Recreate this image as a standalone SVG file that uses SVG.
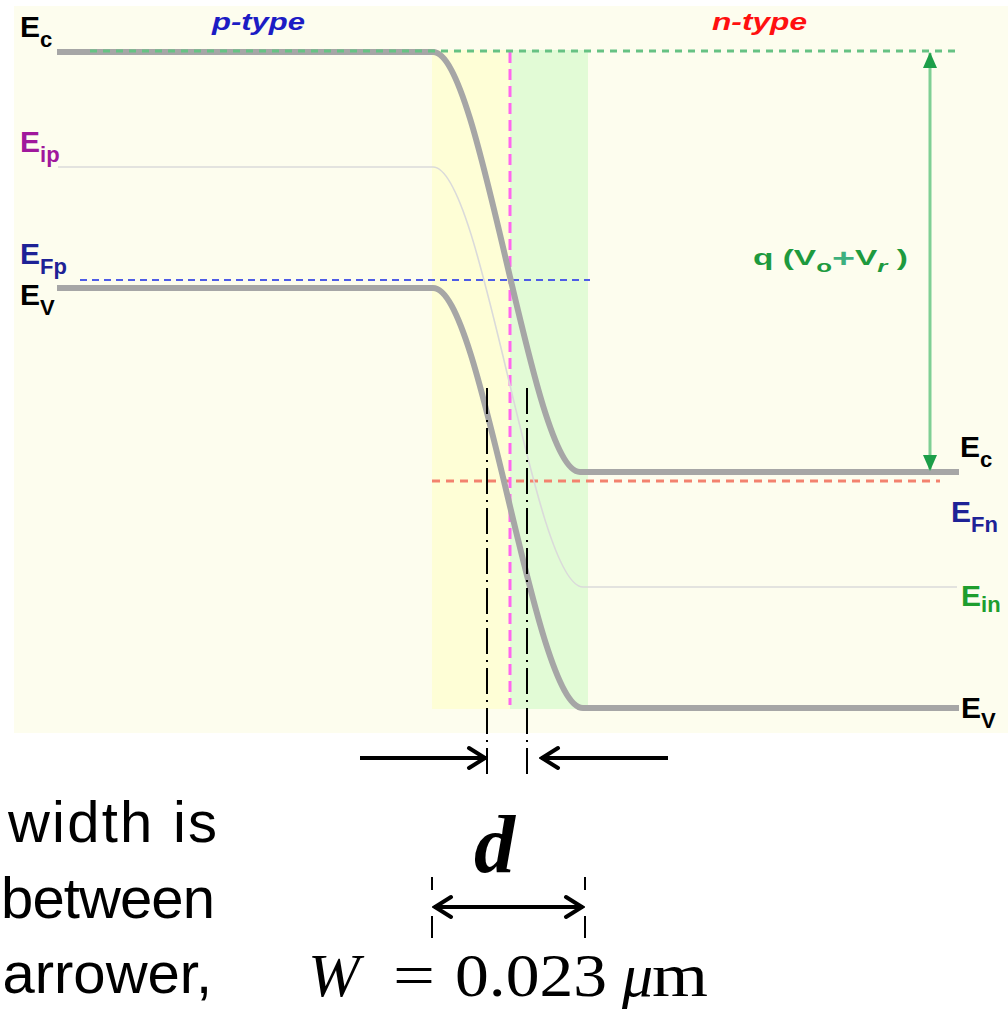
<svg xmlns="http://www.w3.org/2000/svg" width="1008" height="1010" viewBox="0 0 1008 1010">
<defs>
<style>
.band{fill:none;stroke:#A6A6A6;stroke-width:6}
.ei{fill:none;stroke:#DADADA;stroke-width:1.6}
.dd{fill:none;stroke:#000;stroke-width:2;stroke-dasharray:26 6 2 6}
.tick{fill:none;stroke:#000;stroke-width:2;stroke-dasharray:13 26 22}
.blk{fill:none;stroke:#000;stroke-width:4}
.lab{font-family:"Liberation Sans",Arial,sans-serif;font-weight:bold}
.sub{font-size:22px}
.body{font-family:"Liberation Sans",Arial,sans-serif;font-size:58px;fill:#000}
.math{font-family:"Liberation Serif","Times New Roman",serif;font-size:62px;fill:#000}
</style>
<marker id="open" viewBox="0 0 22 26" refX="20" refY="13" markerWidth="22" markerHeight="26" markerUnits="userSpaceOnUse" orient="auto-start-reverse">
<path d="M3,3 L19,13 L3,23" fill="none" stroke="#000" stroke-width="4" stroke-linecap="round"/>
</marker>
<marker id="garr" viewBox="0 0 16 14" refX="15" refY="7" markerWidth="16" markerHeight="14" markerUnits="userSpaceOnUse" orient="auto-start-reverse">
<path d="M0,0 L16,7 L0,14 Z" fill="#1C9E48"/>
</marker>
</defs>
<rect x="0" y="0" width="1008" height="1010" fill="#FFFFFF"/>
<rect x="14" y="6" width="994" height="727" fill="#FDFDEE"/>
<g id="depletion-p"><rect x="432" y="50" width="78" height="659" fill="#FEFED6"/></g>
<g id="depletion-n"><rect x="510" y="50" width="78" height="659" fill="#E2FBD6"/></g>

<g id="connectors">
<line x1="80" y1="280" x2="590" y2="280" stroke="#4E5CE6" stroke-width="2" stroke-dasharray="7 5"/>
<line x1="432" y1="481" x2="940" y2="481" stroke="#F3826E" stroke-width="3" stroke-dasharray="8 6"/>
<line x1="510" y1="52" x2="510" y2="705" stroke="#FF66EE" stroke-width="3" stroke-dasharray="11 6"/>
<path class="ei" d="M58,167 H433 C483,167 533,587 583,587 H957"/>
<path class="band" d="M57,52 H433 C482,52 531,472 580,472 H959"/>
<path class="band" d="M57,288 H433 C483,288 533,708 583,708 H959"/>
<line x1="90" y1="51" x2="960" y2="51" stroke="#66C283" stroke-width="3" stroke-dasharray="7 6"/>
<line x1="930" y1="53" x2="930" y2="470" stroke="#7FCF94" stroke-width="3" marker-start="url(#garr)" marker-end="url(#garr)"/>
<line class="dd" x1="487" y1="388" x2="487" y2="778"/>
<line class="dd" x1="527" y1="388" x2="527" y2="778"/>
<line class="blk" x1="360" y1="758" x2="486" y2="758" marker-end="url(#open)"/>
<line class="blk" x1="668" y1="758" x2="541" y2="758" marker-end="url(#open)"/>
<line class="tick" x1="432" y1="877" x2="432" y2="938"/>
<line class="tick" x1="585" y1="877" x2="585" y2="938"/>
<line class="blk" x1="434" y1="907" x2="583" y2="907" marker-start="url(#open)" marker-end="url(#open)"/>
</g>

<g id="region-labels">
<text class="lab" x="212" y="30" font-size="24" font-style="italic" fill="#1C1CC4" textLength="93" lengthAdjust="spacingAndGlyphs">p-type</text>
<text class="lab" x="712" y="30" font-size="24" font-style="italic" fill="#FF1010" textLength="95" lengthAdjust="spacingAndGlyphs">n-type</text>
</g>

<g id="left-labels">
<text class="lab" x="20" y="37" font-size="30" fill="#000">E<tspan class="sub" dy="10">c</tspan></text>
<text class="lab" x="20" y="152" font-size="30" fill="#A0189C">E<tspan class="sub" dy="10">ip</tspan></text>
<text class="lab" x="20" y="264" font-size="30" fill="#1E2296">E<tspan class="sub" dy="10">Fp</tspan></text>
<text class="lab" x="20" y="305" font-size="30" fill="#000">E<tspan class="sub" dy="10">V</tspan></text>
</g>

<g id="right-labels">
<text class="lab" x="960" y="457" font-size="30" fill="#000">E<tspan class="sub" dy="10">c</tspan></text>
<text class="lab" x="951" y="522" font-size="30" fill="#1E2296">E<tspan class="sub" dy="10">Fn</tspan></text>
<text class="lab" x="961" y="606" font-size="30" fill="#1E9E2E">E<tspan class="sub" dy="6">in</tspan></text>
<text class="lab" x="961" y="718" font-size="30" fill="#000">E<tspan class="sub" dy="10">V</tspan></text>
</g>

<g id="potential-label">
<text class="lab" transform="translate(753,265) scale(1.52,1)" font-size="22" fill="#1E9A3E">q (V<tspan font-size="17" dy="7">o</tspan><tspan fill="#3DB07E" font-size="26" dy="-5">+</tspan><tspan dy="-2">V</tspan><tspan font-size="17" font-style="italic" dy="7">r</tspan><tspan dy="-7"> )</tspan></text>
</g>

<g id="body-text">
<text class="body" x="217" y="842" text-anchor="end" textLength="209" lengthAdjust="spacing">width is</text>
<text class="body" x="1" y="918" font-size="57" textLength="214" lengthAdjust="spacing">between</text>
<text class="body" x="212" y="993" text-anchor="end">arrower,</text>
</g>

<g id="width-labels">
<text x="474" y="872" font-family="'Liberation Serif','Times New Roman',serif" font-size="82" font-weight="bold" font-style="italic" fill="#000">d</text>
<text class="math" x="308" y="996" font-style="italic">W</text>
<text class="math" x="393" y="996" textLength="42" lengthAdjust="spacingAndGlyphs">=</text>
<text class="math" x="455" y="996" textLength="152" lengthAdjust="spacingAndGlyphs">0.023</text>
<text class="math" x="622" y="996" font-style="italic">μ</text>
<text class="math" x="652" y="996" textLength="56" lengthAdjust="spacingAndGlyphs">m</text>
</g>
</svg>
